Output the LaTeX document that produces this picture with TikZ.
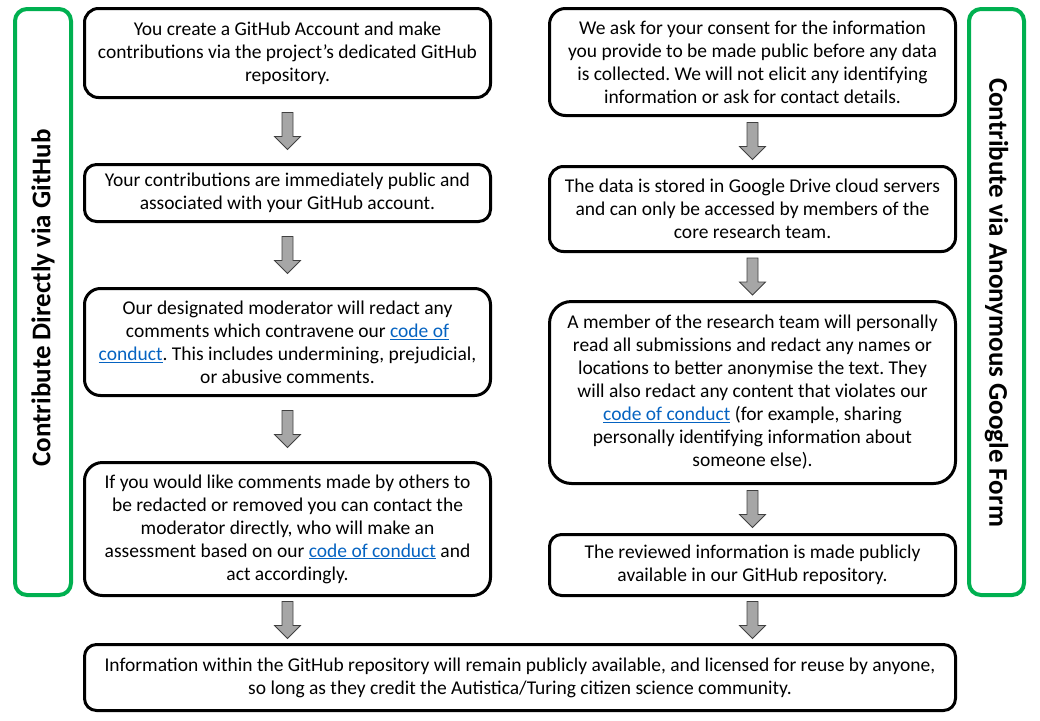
\documentclass[tikz,border=0pt]{standalone}
\usepackage{fontspec}
\setmainfont{Carlito}
\frenchspacing

\definecolor{framegreen}{RGB}{0,176,80}
\definecolor{linkblue}{RGB}{5,99,193}
\definecolor{arrowgray}{RGB}{166,166,166}
\newcommand{\conduct}[1]{\textcolor{linkblue}{\underline{#1}}}

\tikzset{
	stepbox/.style={draw, line width=3pt, rounded corners=14pt, minimum width=406pt, align=center, inner sep=0pt, font=\fontsize{19.5}{23}\selectfont},
	sidebox/.style={draw=framegreen, line width=4pt, rounded corners=12pt},
	sidelabel/.style={font=\fontsize{27}{30}\selectfont\bfseries},
	downarrow/.pic={
		\draw [draw=black!75, fill=arrowgray, line width=0.8pt, line join=miter] (-5.5, -18.5) -- ++(11, 0) -- ++(0, 24) -- ++(7.5, 0) -- ++(-13, 13) -- ++(-13, -13) -- ++(7.5, 0) -- cycle;
	}
}

\begin{document}
\begin{tikzpicture}[x=1pt, y=-1pt]
	\useasboundingbox (0, 0) rectangle (1040, 720);

	\draw [sidebox] (15, 9) rectangle (71, 595);
	\draw [sidebox] (969, 9) rectangle (1024, 595);
	\node [sidelabel, rotate=90] (ghlabel) at (43, 298) {Contribute Directly via GitHub};
	\node [sidelabel, rotate=-90] (formlabel) at (996.5, 302.5) {Contribute via Anonymous Google Form};

	\node [stepbox, minimum height=89pt] (gh1) at (287.5, 53) {You create a GitHub Account and make\\contributions via the project’s dedicated GitHub\\repository.};
	\node [stepbox, minimum height=57pt, rounded corners=12pt] (gh2) at (287.5, 193) {Your contributions are immediately public and\\associated with your GitHub account.};
	\node [stepbox, minimum height=107pt, rounded corners=16pt] (gh3) at (287.5, 342) {Our designated moderator will redact any\\comments which contravene our \conduct{code of}\\\conduct{conduct}. This includes undermining, prejudicial,\\or abusive comments.};
	\node [stepbox, minimum height=133pt, rounded corners=18pt] (gh4) at (287.5, 529) {If you would like comments made by others to\\be redacted or removed you can contact the\\moderator directly, who will make an\\assessment based on our \conduct{code of conduct} and\\act accordingly.};

	\node [stepbox, minimum height=107pt, rounded corners=16pt] (form1) at (752.5, 62) {We ask for your consent for the information\\you provide to be made public before any data\\is collected. We will not elicit any identifying\\information or ask for contact details.};
	\node [stepbox, minimum height=85pt] (form2) at (752.5, 209) {The data is stored in Google Drive cloud servers\\and can only be accessed by members of the\\core research team.};
	\node [stepbox, minimum height=182pt, rounded corners=22pt] (form3) at (752.5, 392.5) {A member of the research team will personally\\read all submissions and redact any names or\\locations to better anonymise the text. They\\will also redact any content that violates our\\\conduct{code of conduct} (for example, sharing\\personally identifying information about\\someone else).};
	\node [stepbox, minimum height=61pt, rounded corners=12pt] (form4) at (752.5, 565) {The reviewed information is made publicly\\available in our GitHub repository.};

	\node [stepbox, minimum width=871pt, minimum height=66pt, rounded corners=12pt] (public) at (520, 677.5) {Information within the GitHub repository will remain publicly available, and licensed for reuse by anyone,\\so long as they credit the Autistica/Turing citizen science community.};

	\path (gh1) -- (gh2) pic [midway] {downarrow};
	\path (gh2) -- (gh3) pic [midway] {downarrow};
	\path (gh3) -- (gh4) pic [midway] {downarrow};
	\path (gh4.south) -- (gh4.south |- public.north) pic [midway] {downarrow};

	\path (form1) -- (form2) pic [midway] {downarrow};
	\path (form2) -- (form3) pic [midway] {downarrow};
	\path (form3) -- (form4) pic [midway] {downarrow};
	\path (form4.south) -- (form4.south |- public.north) pic [midway] {downarrow};
\end{tikzpicture}
\end{document}
